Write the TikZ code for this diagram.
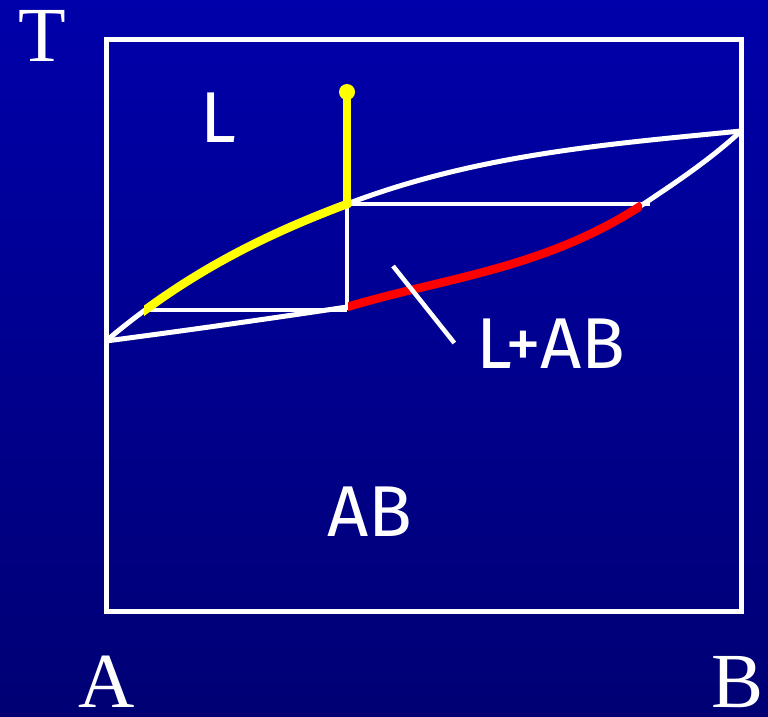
\documentclass[tikz,border=0pt]{standalone}
\usepackage{fontspec}
\usepackage{tikz}
\usetikzlibrary{positioning}
\newfontfamily\axisfont{Liberation Serif}
\newfontfamily\handfont{Fira Sans}
\definecolor{slidetop}{RGB}{0,0,170}
\definecolor{slidebottom}{RGB}{0,0,116}
\definecolor{liqyellow}{HTML}{FFFF00}
\definecolor{solred}{HTML}{FF0000}

\tikzset{
  frameline/.style={draw=white, line width=5pt},
  curveline/.style={draw=white, line width=5pt},
  tieline/.style={draw=white, line width=4.5pt},
  leader/.style={draw=white, line width=4.5pt},
  yellowline/.style={draw=liqyellow, line width=8.5pt},
  redline/.style={draw=solred, line width=8.5pt},
  axislabel/.style={text=white, inner sep=0pt, font=\axisfont\fontsize{78}{80}\selectfont},
  phaselabel/.style={text=white, inner sep=0pt, font=\handfont\fontsize{72}{76}\selectfont}
}

\begin{document}
\begin{tikzpicture}[x=1pt, y=-1pt]
\useasboundingbox (0,0) rectangle (768,717);
\shade[top color=slidetop, bottom color=slidebottom] (0,0) rectangle (768,717);

% key points of the diagram
\coordinate (pA) at (106,341);
\coordinate (pB) at (741,131);
\coordinate (liq) at (347,204);
\coordinate (sol) at (347,307);
\coordinate (start) at (347,92);
\coordinate (tieLo) at (150,310);
\coordinate (tieLoR) at (347,310);
\coordinate (tieHi) at (650,204);
\coordinate (leadtip) at (393,266);

% frame
\draw[frameline] (106,40) rectangle (741,611);

% liquidus and solidus
\draw[curveline] (pA) .. controls (186,273) and (267,234) .. (liq)
  .. controls (478,154) and (610,144) .. (pB);
\draw[curveline] (pA) .. controls (186,330.5) and (267,319) .. (sol)
  .. controls (445,277.6) and (544,269) .. (642,205)
  .. controls (672,185) and (710,160) .. (pB);

% tie lines
\draw[tieline] (tieLo) -- (tieLoR);
\draw[tieline] (liq) -- (tieHi);
\draw[white, line width=3.5pt] (liq) -- (tieLoR);

% liquid path (yellow)
\begin{scope}
  \clip (144,0) rectangle (351,717);
  \draw[yellowline] (pA) .. controls (186,273) and (267,234) .. (liq)
    .. controls (478,154) and (610,144) .. (pB);
\end{scope}
\draw[yellowline] (start) -- ([yshift=2pt]liq);
\fill[liqyellow] (start) circle (8);

% solid path (red)
\begin{scope}
  \clip (348,0) rectangle (642,717);
  \draw[redline] (sol) .. controls (445,277.6) and (544,269) .. (642,205);
\end{scope}

% labels
\node[axislabel] (T) at (42,36) {T};
\node[axislabel] (A) at (107,682) {A};
\node[axislabel] (B) at (738,682) {B};
\node[phaselabel] (liquid) at (218,118) {L};
\node[phaselabel] (twophase) at (551,344) {L+AB};
\node[phaselabel] (solid) at (370,512) {AB};
\draw[leader] (leadtip) -- ([xshift=-22pt, yshift=1pt]twophase.west);
\end{tikzpicture}
\end{document}
